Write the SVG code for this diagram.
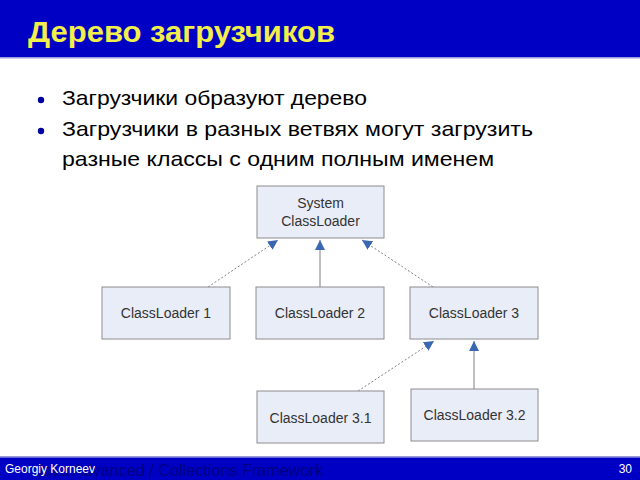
<svg xmlns="http://www.w3.org/2000/svg" width="640" height="480" viewBox="0 0 640 480">
<defs>
<style>
.box{fill:#E9EDF8;stroke:#8C8C8C;stroke-width:1}
.lbl{font-family:"Liberation Sans",Arial,sans-serif;font-size:14px;fill:#333;text-anchor:middle}
.solid{stroke:#808080;stroke-width:1;fill:none}
.dash{stroke:#808080;stroke-width:1;stroke-dasharray:2,2;fill:none}
.bul{font-family:"Liberation Sans",Arial,sans-serif;font-size:21px;fill:#000}
</style>
<marker id="ah" viewBox="0 0 10 10" refX="10" refY="5" markerWidth="10" markerHeight="10" markerUnits="userSpaceOnUse" orient="auto">
<path d="M0,0 L10,5 L0,10 z" fill="#3A68B0"/>
</marker>
</defs>
<rect width="640" height="480" fill="#fff"/>
<rect x="0" y="0" width="640" height="57" fill="#0000C4"/>
<rect x="0" y="57" width="640" height="1.5" fill="#9A9AE0"/>
<text x="28" y="42" font-family="Liberation Sans,Arial,sans-serif" font-size="30" font-weight="bold" fill="#F2EE4A" textLength="307" lengthAdjust="spacingAndGlyphs">Дерево загрузчиков</text>
<circle cx="41" cy="100" r="3.2" fill="#0000A0"/>
<circle cx="41" cy="131" r="3.2" fill="#0000A0"/>
<text class="bul" x="62" y="105" textLength="305" lengthAdjust="spacingAndGlyphs">Загрузчики образуют дерево</text>
<text class="bul" x="62" y="136" textLength="471" lengthAdjust="spacingAndGlyphs">Загрузчики в разных ветвях могут загрузить</text>
<text class="bul" x="62" y="166" textLength="432" lengthAdjust="spacingAndGlyphs">разные классы с одним полным именем</text>
<g id="connectors">
<line class="dash" x1="208" y1="287" x2="278" y2="240" marker-end="url(#ah)"/>
<line class="solid" x1="320" y1="287" x2="320" y2="240" marker-end="url(#ah)"/>
<line class="dash" x1="433" y1="287" x2="362" y2="240" marker-end="url(#ah)"/>
<line class="dash" x1="358" y1="391" x2="434" y2="341" marker-end="url(#ah)"/>
<line class="solid" x1="474" y1="389" x2="474" y2="341" marker-end="url(#ah)"/>
</g>
<g id="system">
<rect class="box" x="257" y="186" width="127" height="52"/>
<text class="lbl" x="320.5" y="208">System</text>
<text class="lbl" x="320.5" y="226">ClassLoader</text>
</g>
<g id="cl1">
<rect class="box" x="102" y="287" width="128" height="52"/>
<text class="lbl" x="166" y="318">ClassLoader 1</text>
</g>
<g id="cl2">
<rect class="box" x="256" y="287" width="128" height="52"/>
<text class="lbl" x="320" y="318">ClassLoader 2</text>
</g>
<g id="cl3">
<rect class="box" x="410" y="287" width="128" height="52"/>
<text class="lbl" x="474" y="318">ClassLoader 3</text>
</g>
<g id="cl31">
<rect class="box" x="257" y="391" width="127" height="52"/>
<text class="lbl" x="320.5" y="423">ClassLoader 3.1</text>
</g>
<g id="cl32">
<rect class="box" x="411" y="389" width="127" height="52"/>
<text class="lbl" x="474.5" y="420">ClassLoader 3.2</text>
</g>
<rect x="0" y="456" width="640" height="1.5" fill="#9A9AE0"/>
<rect x="0" y="457.5" width="640" height="22.5" fill="#0000C4"/>
<text x="35" y="476" font-family="Liberation Sans,Arial,sans-serif" font-size="17" fill="#000080" textLength="288" lengthAdjust="spacingAndGlyphs">Java Advanced / Collections Framework</text>
<text x="5" y="473" font-family="Liberation Sans,Arial,sans-serif" font-size="12" fill="#fff">Georgiy Korneev</text>
<text x="632" y="473" font-family="Liberation Sans,Arial,sans-serif" font-size="12" fill="#fff" text-anchor="end">30</text>
</svg>
